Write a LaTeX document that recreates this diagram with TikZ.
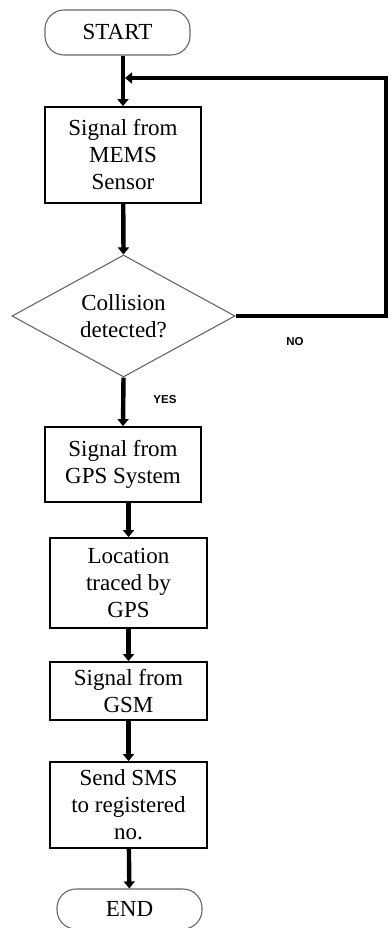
\documentclass[tikz,border=0pt]{standalone}
\usepackage{fontspec}
\setmainfont{Liberation Serif}
\newfontfamily\tagfont{Liberation Sans}
\usetikzlibrary{arrows.meta,shapes.geometric}

\begin{document}
\begin{tikzpicture}[
  x=1pt, y=-1pt,
  font=\fontsize{23}{27}\selectfont,
  term/.style={draw=black!60, line width=1.1pt, rounded corners=19pt, align=center, minimum width=145pt, minimum height=45pt},
  box/.style={draw, line width=1.8pt, align=center, minimum width=156pt, inner sep=2pt},
  decide/.style={draw=black!60, line width=1.1pt, diamond, aspect=1.83, align=center, minimum width=223pt, minimum height=122pt, inner sep=0pt},
  tag/.style={font=\tagfont\bfseries\fontsize{11.5}{13}\selectfont},
  flow/.style={-{Triangle[length=7pt,width=11pt]}, line width=4.4pt},
  back/.style={-{Triangle[length=7pt,width=11pt]}, line width=4pt}
]
\useasboundingbox (0,0) rectangle (391,928);

\node[term] (start) at (117.5,32.5) {START};
\node[box, minimum height=96pt] (sensor) at (123,155) {Signal from\\MEMS\\Sensor};
\node[decide] (collide) at (123.5,316) {Collision\\detected?};
\node[box, minimum height=75pt] (gps) at (123,464.5) {Signal from\\GPS System};
\node[box, minimum height=90pt, minimum width=157pt] (locate) at (128.5,583) {Location\\traced by\\GPS};
\node[box, minimum height=58pt, minimum width=157pt] (gsm) at (128.5,691) {Signal from\\GSM};
\node[box, minimum height=86pt, minimum width=157pt] (sms) at (128.5,805) {Send SMS\\to registered\\no.};
\node[term, minimum height=40pt] (stop) at (129.5,909) {END};

% main path
\draw[flow] (start.south -| sensor.north) -- (sensor.north);
\draw[flow] (sensor) -- (collide.north);
\draw[flow] (collide.south) -- (gps.north);
\draw[flow] (gps.south -| locate.north) -- (locate.north);
\draw[flow] (locate) -- (gsm);
\draw[flow] (gsm) -- (sms);
\draw[flow] (sms) -- (stop);

% loop back when no collision
\coordinate (noright) at (386,316);
\coordinate (notop) at (386,78);
\coordinate (rejoin) at (125,78);
\draw[back] (collide.east) -- (noright) -- (notop) -- (rejoin);

\node[tag] (nolabel) at (295,342) {NO};
\node[tag] (yeslabel) at (165,400) {YES};

\end{tikzpicture}
\end{document}
